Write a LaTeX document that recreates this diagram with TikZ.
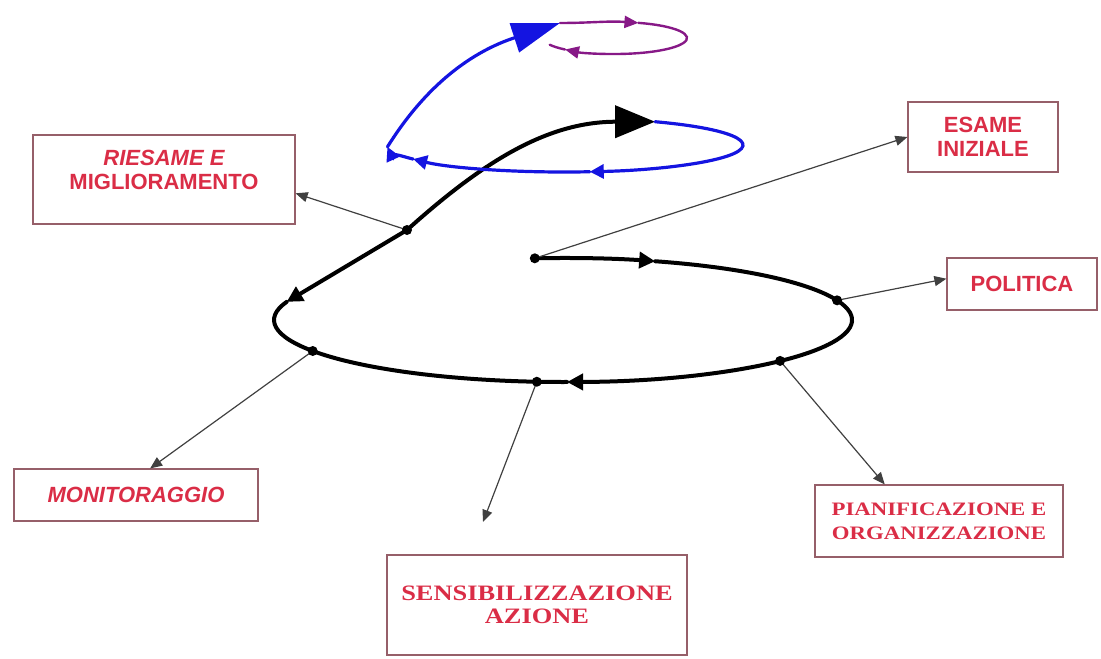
\documentclass[tikz,border=0pt]{standalone}
\usepackage{fontspec}
\usetikzlibrary{arrows.meta}
\newfontfamily\boxsans{Liberation Sans}
\newfontfamily\boxserif[FakeStretch=1.2]{Liberation Serif}
\definecolor{labelred}{RGB}{218,45,70}
\definecolor{boxline}{RGB}{150,95,105}
\definecolor{loopblue}{RGB}{20,20,225}
\definecolor{looppurple}{RGB}{135,25,135}
\tikzset{
	labelbox/.style={draw=boxline, line width=0.6pt, text=labelred, align=center, inner sep=2pt,
		font=\boxsans\bfseries\fontsize{11}{12}\selectfont},
	serifbox/.style={labelbox, font=\boxserif\bfseries\fontsize{9.5}{12}\selectfont},
	spiral/.style={line width=2pt, line cap=round, line join=round},
	bluepath/.style={loopblue, line width=1.6pt, line cap=round},
	purplepath/.style={looppurple, line width=1.2pt, line cap=round},
	conn/.style={draw=black!75, line width=0.6pt, -{Triangle[length=6pt,width=5pt]}},
	midtip/.tip={Triangle[length=8pt,width=8pt]},
	bigtip/.tip={Triangle[length=20pt,width=16pt]},
	smalltip/.tip={Triangle[length=7pt,width=7pt]},
	hugetip/.tip={Triangle[length=24pt,width=15pt]},
	purpletip/.tip={Triangle[length=7pt,width=6pt]},
	bigloop/.style={x radius=289, y radius=62},
	blueloop/.style={x radius=178, y radius=27},
	purpleloop/.style={x radius=72, y radius=16},
}

\begin{document}
\begin{tikzpicture}[x=0.5pt,y=0.5pt]
			\useasboundingbox (0,0) rectangle (1101,-658);
			
			% boxes
			\node[labelbox, minimum width=131pt, minimum height=44.5pt] (riesame) at (164,-179.5) {{\itshape RIESAME E}\\MIGLIORAMENTO\\[-2pt]\mbox{}};
			\node[labelbox, minimum width=75pt, minimum height=35pt] (esame) at (983,-137) {ESAME\\INIZIALE};
			\node[labelbox, minimum width=75pt, minimum height=26pt] (politica) at (1022,-284) {POLITICA};
			\node[labelbox, minimum width=122pt, minimum height=26pt] (monitor) at (136,-495) {\itshape MONITORAGGIO};
			\node[serifbox, minimum width=124pt, minimum height=36pt] (pianif) at (939,-521) {PIANIFICAZIONE E\\ORGANIZZAZIONE};
			\node[serifbox, font=\boxserif\bfseries\fontsize{11}{11.5}\selectfont, minimum width=150pt, minimum height=50pt] (sensib) at (537,-605) {SENSIBILIZZAZIONE\\AZIONE};
			
			% points on the big loop
			\coordinate (lc) at (563,-320);
			\path (lc) ++(95.6:289 and 62) coordinate (s0);
			\path (lc) ++(71.4:289 and 62) coordinate (a1);
			\path (lc) ++(18.5:289 and 62) coordinate (p1);
			\path (lc) ++(-41.3:289 and 62) coordinate (p2);
			\path (lc) ++(-89.2:289 and 62) coordinate (a2);
			\path (lc) ++(-95.2:289 and 62) coordinate (p3);
			\path (lc) ++(-150:289 and 62) coordinate (p4);
			\path (lc) ++(-197:289 and 62) coordinate (a3);
			\coordinate (q1) at (407,-230);
			% points on the blue loop
			\coordinate (bc) at (565,-145);
			\path (bc) ++(59.6:178 and 27) coordinate (t1);
			\path (bc) ++(-82:178 and 27) coordinate (b2);
			\path (bc) ++(-148.6:178 and 27) coordinate (b3);
			\path (bc) ++(-176:178 and 27) coordinate (b4);
			\coordinate (b5) at (560,-23);
			% points on the purple loop
			\coordinate (pc) at (615,-38);
			\path (pc) ++(71:72 and 16) coordinate (c1);
			\path (pc) ++(-134:72 and 16) coordinate (c3);
			\coordinate (sensibtip) at (483,-522);
			
			% black spiral
			\draw[spiral,-midtip] (s0) arc[start angle=95.6, end angle=71.4, bigloop];
			\draw[spiral,-midtip] (a1) arc[start angle=71.4, end angle=-89.2, bigloop];
			\draw[spiral] (a2) arc[start angle=-89.2, end angle=-197, bigloop];
			\draw[spiral,midtip-] (a3) -- (q1);
			\draw[spiral,-bigtip] (q1) to[out=42,in=180] (t1);
			
			% blue loop
			\draw[bluepath,-smalltip] (t1) arc[start angle=59.6, end angle=-82, blueloop];
			\draw[bluepath,-smalltip] (b2) arc[start angle=-82, end angle=-148.6, blueloop];
			\draw[bluepath,-smalltip] (b3) arc[start angle=-148.6, end angle=-176, blueloop];
			\draw[bluepath,-hugetip] (b4) to[out=58,in=-162] (b5);
			
			% purple loop
			\draw[purplepath,-purpletip] (b5) to[out=0,in=176] (c1);
			\draw[purplepath,-purpletip] (c1) arc[start angle=71, end angle=-134, purpleloop];
			\draw[purplepath] (c3) arc[start angle=-134, end angle=-155, purpleloop];
			
			% connectors
			\draw[conn] (q1) -- (riesame.-6);
			\draw[conn] (s0) -- (esame.west);
			\draw[conn] (p1) -- (politica.176);
			\draw[conn] (p2) -- (pianif.146);
			\draw[conn] (p3) -- (sensibtip);
			\draw[conn] (p4) -- (monitor.62);
			
			\foreach \p in {s0,p1,p2,p3,p4,q1}
			\fill (\p) circle (2.5pt);
			\end{tikzpicture}
\end{document}
